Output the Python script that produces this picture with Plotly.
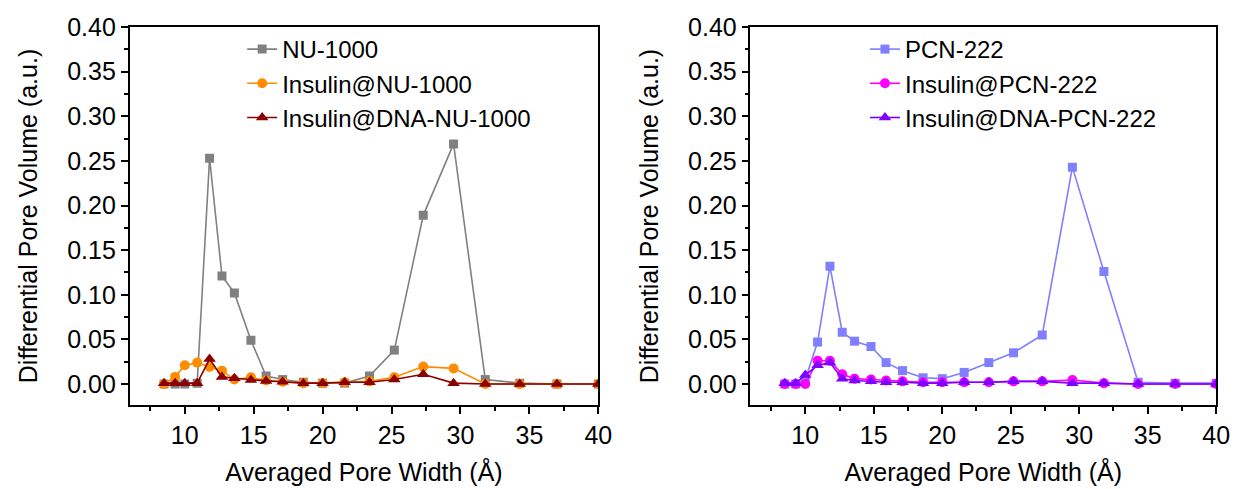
import plotly.graph_objects as go

# ---- data ----
pore_width = [8.5, 9.3, 10.0, 10.9, 11.8, 12.7, 13.6, 14.8, 15.9, 17.1, 18.6,
              20.0, 21.6, 23.4, 25.2, 27.3, 29.5, 31.8, 34.3, 37.0, 40.0]

nu1000 = [0.000, 0.000, 0.000, 0.001, 0.253, 0.121, 0.102, 0.049, 0.009, 0.005, 0.002,
          0.001, 0.001, 0.009, 0.038, 0.189, 0.269, 0.005, 0.001, 0.000, 0.000]
ins_nu1000 = [0.000, 0.008, 0.021, 0.024, 0.019, 0.015, 0.005, 0.0075, 0.004, 0.0025, 0.001,
              0.001, 0.002, 0.003, 0.0075, 0.0195, 0.0175, 0.000, 0.000, 0.000, 0.000]
dna_nu1000 = [0.001, 0.001, 0.001, 0.001, 0.028, 0.008, 0.0065, 0.0045, 0.0035, 0.0025, 0.001,
              0.001, 0.002, 0.002, 0.005, 0.011, 0.001, 0.000, 0.000, 0.000, 0.000]

pcn222 = [0.000, 0.000, 0.005, 0.047, 0.132, 0.058, 0.048, 0.042, 0.024, 0.015, 0.007,
          0.006, 0.013, 0.024, 0.035, 0.055, 0.243, 0.126, 0.002, 0.001, 0.001]
ins_pcn222 = [0.000, 0.000, 0.000, 0.026, 0.026, 0.011, 0.006, 0.005, 0.004, 0.003, 0.002,
              0.002, 0.002, 0.002, 0.003, 0.003, 0.0045, 0.001, 0.000, 0.000, 0.000]
dna_pcn222 = [0.001, 0.001, 0.010, 0.021, 0.024, 0.006, 0.004, 0.003, 0.002, 0.002, 0.001,
              0.001, 0.002, 0.002, 0.003, 0.003, 0.001, 0.001, 0.000, 0.000, 0.000]

y_ticks = [0.00, 0.05, 0.10, 0.15, 0.20, 0.25, 0.30, 0.35, 0.40]
x_ticks = [10, 15, 20, 25, 30, 35, 40]

FONT = "Liberation Sans, Arial, sans-serif"
FS = 25

fig = go.Figure()

def add(y, name, color, symbol, size, xa, ya, leg):
    fig.add_trace(go.Scatter(
        x=pore_width, y=y, name=name, mode="lines+markers",
        line=dict(color=color, width=1.6),
        marker=dict(symbol=symbol, size=size, color=color),
        xaxis=xa, yaxis=ya, legend=leg))

add(nu1000, "NU-1000", "#808080", "square", 9, "x", "y", "legend")
add(ins_nu1000, "Insulin@NU-1000", "#FF8C00", "circle", 10, "x", "y", "legend")
add(dna_nu1000, "Insulin@DNA-NU-1000", "#8B0000", "triangle-up", 11, "x", "y", "legend")

add(pcn222, "PCN-222", "#7F7FFF", "square", 9, "x2", "y2", "legend2")
add(ins_pcn222, "Insulin@PCN-222", "#FF00FF", "circle", 10, "x2", "y2", "legend2")
add(dna_pcn222, "Insulin@DNA-PCN-222", "#8000FF", "triangle-up", 11, "x2", "y2", "legend2")

xcommon = dict(range=[6, 40], tickmode="array", tickvals=x_ticks,
               ticks="outside", ticklen=7, tickwidth=1.5, tickcolor="black",
               showline=True, linecolor="black", linewidth=1.5, mirror=True,
               showgrid=False, zeroline=False,
               minor=dict(dtick=2.5, tick0=0, ticks="outside", ticklen=4,
                          tickwidth=1.5, tickcolor="black", showgrid=False),
               tickfont=dict(family=FONT, size=FS, color="black"),
               title=dict(text="Averaged Pore Width (Å)", standoff=16,
                          font=dict(family=FONT, size=FS, color="black")))
ycommon = dict(range=[-0.0235, 0.40], tickmode="array", tickvals=y_ticks,
               tickformat=".2f",
               ticks="outside", ticklen=7, tickwidth=1.5, tickcolor="black",
               showline=True, linecolor="black", linewidth=1.5, mirror=True,
               showgrid=False, zeroline=False,
               minor=dict(dtick=0.025, tick0=0, ticks="outside", ticklen=4,
                          tickwidth=1.5, tickcolor="black", showgrid=False),
               tickfont=dict(family=FONT, size=FS, color="black"),
               title=dict(text="Differential Pore Volume (a.u.)", standoff=22,
                          font=dict(family=FONT, size=FS, color="black")))

legcommon = dict(font=dict(family=FONT, size=24, color="black"),
                 bgcolor="rgba(0,0,0,0)", borderwidth=0,
                 xanchor="left", yanchor="top", traceorder="normal")

# the page adds an 8px top offset, so the figure height is reduced to fit the window
fig.update_layout(
    width=1240, height=481, autosize=False,
    margin=dict(l=0, r=0, t=19, b=84),
    paper_bgcolor="white", plot_bgcolor="white",
    xaxis=dict(domain=[0.0992, 0.4815], anchor="y", **xcommon),
    yaxis=dict(domain=[0, 1], anchor="x", **ycommon),
    xaxis2=dict(domain=[0.6056, 0.9855], anchor="y2", **xcommon),
    yaxis2=dict(domain=[0, 1], anchor="x2", **ycommon),
    legend=dict(x=0.191, y=1.0, **legcommon),
    legend2=dict(x=0.699, y=1.0, **legcommon),
    showlegend=True,
)

fig.write_html("out.html")
